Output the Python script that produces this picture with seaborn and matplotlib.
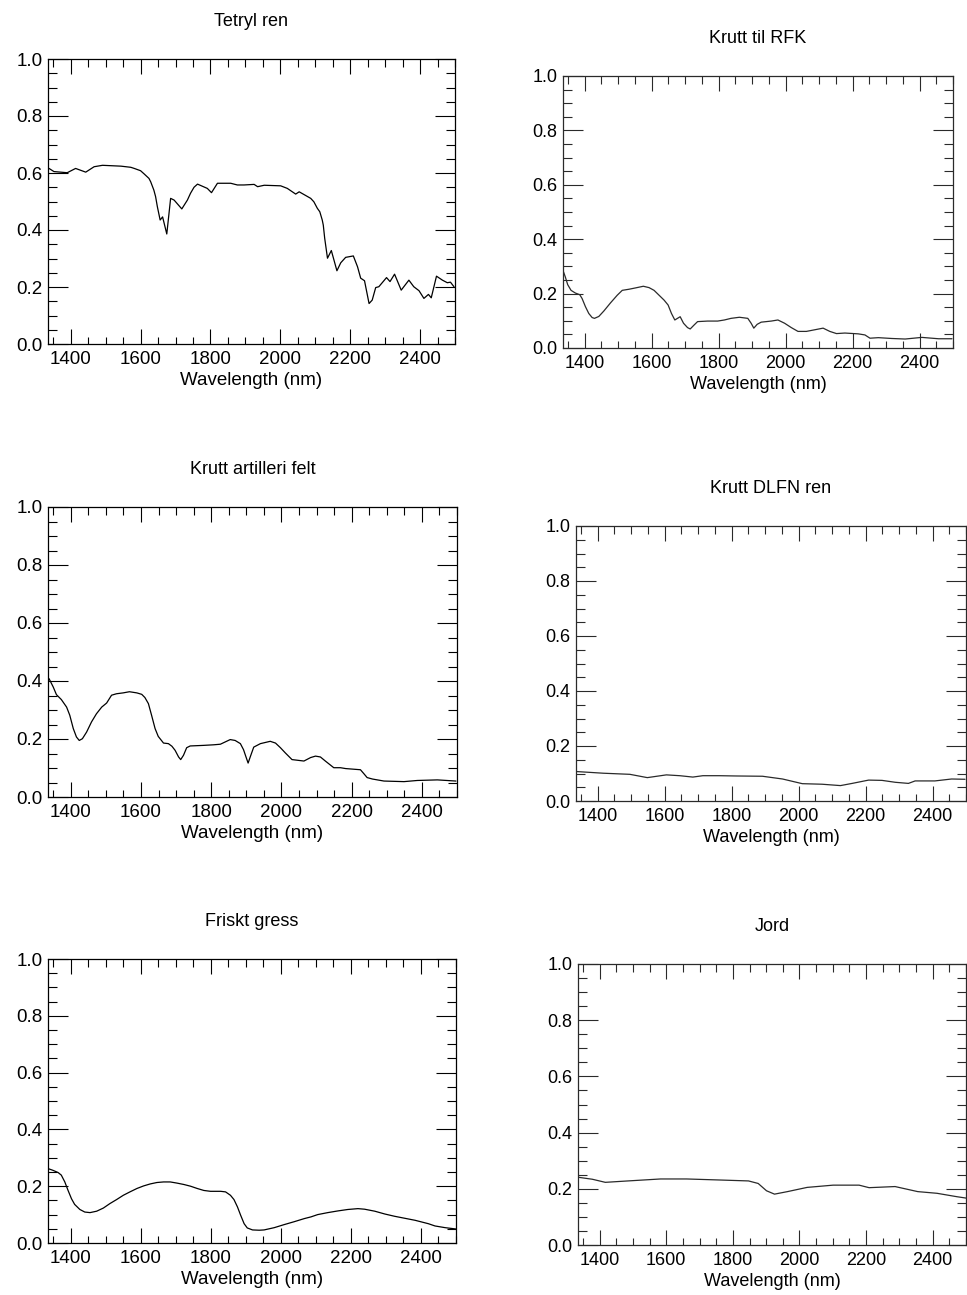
import matplotlib
matplotlib.use("Agg")
import matplotlib.pyplot as plt
from matplotlib.ticker import MultipleLocator, FormatStrFormatter
import numpy as np
import pandas as pd
import seaborn as sns

# Reflectance spectra (wavelength in nm, reflectance 0-1)
tetryl_nm = [1338, 1352, 1390, 1414, 1443, 1467, 1491, 1544, 1572, 1582, 1600, 1610, 1624,
             1629, 1638, 1643, 1648, 1656, 1663, 1675, 1686, 1696, 1718, 1734, 1743, 1753,
             1763, 1791, 1803, 1820, 1858, 1877, 1896, 1925, 1935, 1954, 2001, 2020, 2044,
             2054, 2087, 2096, 2106, 2113, 2120, 2123, 2127, 2135, 2146, 2162, 2173, 2187,
             2209, 2221, 2230, 2241, 2254, 2263, 2273, 2282, 2304, 2314, 2327, 2346, 2368,
             2382, 2397, 2411, 2424, 2432, 2447, 2464, 2478, 2487, 2497]
tetryl_refl = [0.616, 0.605, 0.601, 0.616, 0.603, 0.622, 0.627, 0.624, 0.620, 0.616, 0.608, 0.597, 0.581,
               0.569, 0.540, 0.517, 0.482, 0.435, 0.446, 0.386, 0.511, 0.505, 0.474, 0.505, 0.529, 0.550,
               0.561, 0.546, 0.531, 0.564, 0.564, 0.558, 0.558, 0.560, 0.552, 0.557, 0.555, 0.546, 0.526,
               0.534, 0.511, 0.499, 0.476, 0.464, 0.435, 0.417, 0.371, 0.301, 0.328, 0.257, 0.285, 0.304,
               0.309, 0.271, 0.231, 0.222, 0.142, 0.154, 0.198, 0.201, 0.233, 0.219, 0.245, 0.189, 0.224,
               0.201, 0.187, 0.160, 0.174, 0.162, 0.238, 0.224, 0.215, 0.217, 0.201]

rfk_nm = [1335, 1342, 1349, 1359, 1372, 1385, 1392, 1402, 1412, 1422, 1429, 1442, 1457,
          1477, 1497, 1512, 1532, 1552, 1575, 1592, 1607, 1622, 1637, 1649, 1659, 1669,
          1677, 1685, 1695, 1707, 1715, 1727, 1737, 1767, 1797, 1817, 1837, 1862, 1887,
          1897, 1905, 1915, 1927, 1957, 1977, 1997, 2017, 2037, 2062, 2087, 2112, 2132,
          2152, 2177, 2217, 2237, 2252, 2277, 2317, 2357, 2407, 2457, 2497]
rfk_refl = [0.285, 0.261, 0.233, 0.212, 0.202, 0.196, 0.182, 0.152, 0.127, 0.112, 0.109, 0.116, 0.136,
            0.166, 0.194, 0.212, 0.216, 0.221, 0.227, 0.222, 0.212, 0.194, 0.176, 0.158, 0.127, 0.103,
            0.109, 0.115, 0.091, 0.075, 0.070, 0.085, 0.097, 0.099, 0.099, 0.103, 0.109, 0.113, 0.109,
            0.091, 0.073, 0.087, 0.095, 0.099, 0.103, 0.091, 0.075, 0.061, 0.061, 0.067, 0.073, 0.061,
            0.053, 0.055, 0.052, 0.048, 0.036, 0.038, 0.035, 0.033, 0.039, 0.034, 0.034]

artilleri_nm = [1338, 1350, 1359, 1373, 1388, 1397, 1407, 1416, 1424, 1433, 1445, 1459, 1473,
                1488, 1502, 1516, 1530, 1549, 1567, 1588, 1602, 1611, 1621, 1630, 1640, 1649,
                1664, 1678, 1688, 1697, 1707, 1713, 1721, 1730, 1740, 1778, 1807, 1826, 1840,
                1854, 1868, 1883, 1892, 1899, 1905, 1911, 1921, 1940, 1968, 1983, 1997, 2011,
                2030, 2064, 2083, 2097, 2111, 2125, 2149, 2168, 2183, 2225, 2235, 2244, 2259,
                2292, 2349, 2387, 2444, 2497]
artilleri_refl = [0.408, 0.379, 0.353, 0.336, 0.310, 0.282, 0.236, 0.207, 0.195, 0.201, 0.224, 0.259, 0.287,
                  0.310, 0.324, 0.351, 0.356, 0.359, 0.363, 0.359, 0.354, 0.343, 0.322, 0.282, 0.236, 0.209,
                  0.186, 0.184, 0.175, 0.161, 0.138, 0.129, 0.144, 0.170, 0.176, 0.178, 0.180, 0.182, 0.190,
                  0.198, 0.195, 0.184, 0.163, 0.138, 0.117, 0.138, 0.172, 0.184, 0.192, 0.186, 0.170, 0.152,
                  0.129, 0.124, 0.136, 0.141, 0.138, 0.124, 0.101, 0.101, 0.098, 0.094, 0.080, 0.067, 0.062,
                  0.055, 0.053, 0.057, 0.059, 0.055]

dlfn_nm = [1338, 1417, 1496, 1548, 1605, 1645, 1684, 1714, 1763, 1813, 1892, 1952, 2011,
           2070, 2125, 2160, 2209, 2249, 2289, 2328, 2348, 2407, 2457, 2497]
dlfn_refl = [0.107, 0.101, 0.097, 0.085, 0.095, 0.092, 0.087, 0.092, 0.092, 0.091, 0.090, 0.080, 0.063,
             0.061, 0.056, 0.064, 0.076, 0.075, 0.068, 0.064, 0.073, 0.073, 0.080, 0.079]

gress_nm = [1335, 1349, 1364, 1373, 1383, 1392, 1402, 1411, 1426, 1440, 1455, 1474, 1493,
            1512, 1531, 1550, 1569, 1589, 1608, 1627, 1646, 1665, 1684, 1703, 1723, 1742,
            1761, 1780, 1799, 1828, 1842, 1856, 1866, 1876, 1885, 1895, 1904, 1919, 1938,
            1952, 1981, 2010, 2038, 2067, 2086, 2105, 2134, 2163, 2191, 2220, 2239, 2268,
            2297, 2325, 2354, 2383, 2402, 2421, 2440, 2469, 2502]
gress_refl = [0.262, 0.256, 0.248, 0.239, 0.215, 0.186, 0.156, 0.136, 0.118, 0.109, 0.107, 0.112, 0.123,
              0.139, 0.153, 0.168, 0.180, 0.192, 0.201, 0.208, 0.213, 0.215, 0.215, 0.211, 0.206, 0.200,
              0.192, 0.185, 0.182, 0.182, 0.180, 0.168, 0.153, 0.127, 0.098, 0.068, 0.053, 0.046, 0.045,
              0.046, 0.054, 0.065, 0.075, 0.086, 0.092, 0.100, 0.107, 0.113, 0.118, 0.121, 0.119, 0.112,
              0.102, 0.094, 0.087, 0.080, 0.074, 0.068, 0.060, 0.054, 0.049]

jord_nm = [1336, 1378, 1417, 1485, 1583, 1661, 1769, 1847, 1876, 1901, 1925, 1964, 2023,
           2101, 2179, 2209, 2287, 2355, 2413, 2472, 2500]
jord_refl = [0.241, 0.234, 0.223, 0.228, 0.235, 0.235, 0.231, 0.228, 0.219, 0.193, 0.181, 0.190, 0.205,
             0.213, 0.213, 0.204, 0.208, 0.190, 0.184, 0.172, 0.167]

titles = ["Tetryl ren", "Krutt til RFK", "Krutt artilleri felt",
          "Krutt DLFN ren", "Friskt gress", "Jord"]
spectra = [(tetryl_nm, tetryl_refl), (rfk_nm, rfk_refl), (artilleri_nm, artilleri_refl),
           (dlfn_nm, dlfn_refl), (gress_nm, gress_refl), (jord_nm, jord_refl)]

sns.set_theme(style="white")
plt.rcParams["font.family"] = ["Liberation Sans", "DejaVu Sans"]
plt.rcParams["text.color"] = "black"
plt.rcParams["axes.labelcolor"] = "black"

W, H = 967, 1295
fig = plt.figure(figsize=(W / 100, H / 100), dpi=100)

# panel boxes in pixels: left, right, top, bottom
boxes = [(48, 455, 59, 344), (563, 953, 76, 348),
         (48, 457, 507, 797), (576, 966, 526, 801),
         (48, 456, 959, 1243), (578, 966, 964, 1245)]

for i, (title, (nm, refl), (l, r, t, b)) in enumerate(zip(titles, spectra, boxes)):
    right_col = (i % 2 == 1)
    ink = "#2a2a2a" if right_col else "black"
    ax = fig.add_axes([l / W, 1 - b / H, (r - l) / W, (b - t) / H])
    df = pd.DataFrame({"Wavelength": nm, "Reflectance": refl})
    sns.lineplot(data=df, x="Wavelength", y="Reflectance", ax=ax,
                 color=ink, linewidth=0.9, errorbar=None)
    ax.set_xlim(1335, 2500)
    ax.set_ylim(0, 1.0)
    ax.xaxis.set_major_locator(MultipleLocator(200))
    ax.xaxis.set_minor_locator(MultipleLocator(50))
    ax.yaxis.set_major_locator(MultipleLocator(0.2))
    ax.yaxis.set_minor_locator(MultipleLocator(0.05))
    ax.yaxis.set_major_formatter(FormatStrFormatter("%.1f"))
    fs = 13.0 if right_col else 13.5
    ax.tick_params(axis="both", which="both", direction="in",
                   bottom=True, left=True, top=True, right=True,
                   color=ink, width=0.8, labelsize=fs, labelcolor="black")
    ax.tick_params(axis="x", which="major", length=10.8, pad=5)
    ax.tick_params(axis="x", which="minor", length=5.4)
    ax.tick_params(axis="y", which="major", length=14.4, pad=4)
    ax.tick_params(axis="y", which="minor", length=6.8)
    for sp in ax.spines.values():
        sp.set_color(ink)
        sp.set_linewidth(0.9)
    ax.set_xlabel("Wavelength (nm)", fontsize=fs, labelpad=3)
    ax.set_ylabel("")
    ax.set_title(title, fontsize=13.0, pad=24)

fig.savefig("out.png", dpi=100)
